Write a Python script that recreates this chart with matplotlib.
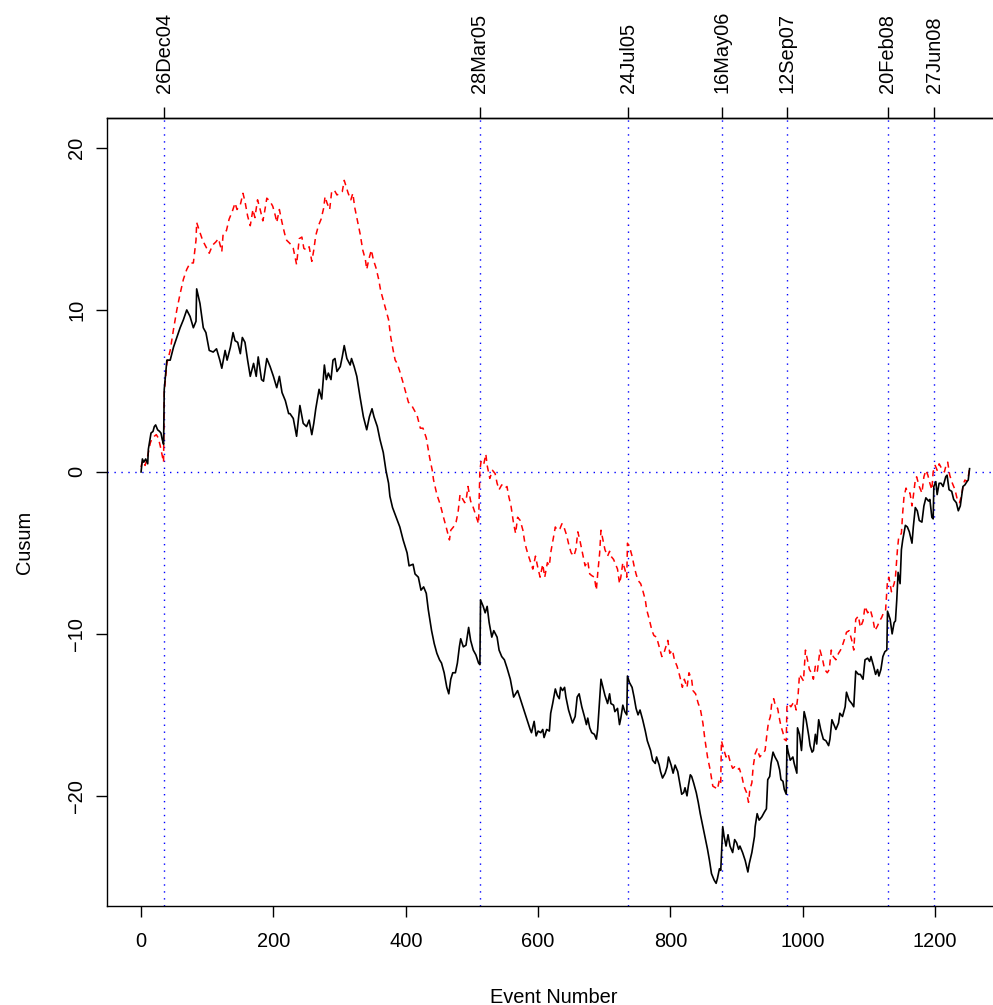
import matplotlib
matplotlib.use("Agg")
import matplotlib.pyplot as plt

# ---------------------------------------------------------------------------
# Data
# ---------------------------------------------------------------------------
black_x = [
    0, 2, 4, 7, 10, 11, 15, 18, 20, 22, 25, 28, 30, 32, 34, 35, 39, 44, 49, 54,
    59, 64, 69, 74, 79, 83, 84, 89, 94, 98, 103, 109, 114, 119, 122, 127, 130,
    135, 139, 142, 146, 150, 153, 157, 161, 165, 170, 174, 177, 182, 185, 190,
    195, 200, 205, 209, 213, 218, 223, 225, 230, 235, 240, 245, 250, 254, 258,
    261, 264, 269, 273, 277, 280, 283, 287, 290, 293, 296, 301, 304, 307, 311,
    316, 318, 322, 326, 331, 336, 341, 345, 349, 352, 357, 361, 366, 370, 374,
    376, 380, 391, 396, 402, 405, 411, 414, 419, 423, 427, 431, 434, 439, 443,
    447, 451, 454, 458, 462, 465, 468, 471, 475, 478, 481, 483, 487, 491, 495,
    498, 502, 506, 510, 512, 513, 517, 520, 523, 526, 530, 533, 538, 541, 545,
    549, 553, 558, 563, 569, 573, 588, 590, 594, 597, 600, 604, 607, 609, 613,
    617, 619, 622, 626, 629, 632, 634, 637, 640, 642, 646, 649, 652, 656, 659,
    662, 666, 670, 673, 675, 678, 681, 685, 688, 690, 693, 695, 698, 701, 705,
    708, 710, 714, 716, 720, 723, 725, 728, 731, 734, 735, 738, 742, 745, 748,
    751, 754, 758, 762, 765, 770, 773, 777, 779, 783, 785, 788, 792, 795, 797,
    801, 804, 807, 811, 814, 817, 820, 822, 825, 827, 830, 832, 835, 839, 842,
    845, 849, 852, 856, 859, 862, 866, 869, 871, 874, 876, 879, 881, 884, 887,
    890, 894, 897, 900, 903, 905, 909, 913, 917, 919, 923, 927, 928, 931, 934,
    938, 942, 945, 947, 950, 952, 955, 958, 962, 965, 967, 970, 972, 975, 976,
    978, 981, 985, 987, 991, 992, 995, 998, 1002, 1005, 1009, 1011, 1014, 1016,
    1019, 1021, 1024, 1027, 1031, 1035, 1039, 1041, 1044, 1046, 1050, 1054,
    1056, 1060, 1064, 1066, 1070, 1074, 1077, 1080, 1084, 1087, 1091, 1094,
    1098, 1101, 1103, 1107, 1110, 1113, 1115, 1118, 1121, 1124, 1127, 1128,
    1132, 1135, 1138, 1140, 1142, 1144, 1147, 1149, 1151, 1155, 1158, 1161,
    1165, 1167, 1170, 1173, 1176, 1180, 1183, 1186, 1190, 1192, 1195, 1197,
    1198, 1201, 1203, 1206, 1209, 1212, 1216, 1218, 1221, 1225, 1228, 1232,
    1235, 1238, 1240, 1242, 1245, 1248, 1250, 1252,
]
black_y = [
    0.0, 0.8, 0.6, 0.8, 0.5, 1.4, 2.4, 2.5, 2.8, 2.9, 2.6, 2.5, 2.4, 2.0, 1.7,
    5.1, 6.9, 6.9, 7.7, 8.3, 8.9, 9.4, 10.0, 9.6, 8.9, 9.3, 11.3, 10.4, 8.9,
    8.6, 7.5, 7.4, 7.6, 6.9, 6.4, 7.5, 6.9, 7.7, 8.6, 8.1, 8.0, 7.3, 8.3, 8.0,
    6.9, 5.9, 6.7, 5.9, 7.1, 5.7, 5.6, 7.0, 6.5, 5.9, 5.2, 5.9, 4.9, 4.4, 3.6,
    3.6, 3.3, 2.2, 4.1, 3.0, 2.8, 3.2, 2.3, 3.0, 3.9, 5.1, 4.5, 6.6, 5.7, 6.1,
    5.7, 6.9, 7.0, 6.2, 6.5, 7.1, 7.8, 7.0, 6.6, 7.0, 6.5, 5.9, 4.6, 3.4, 2.6,
    3.4, 3.9, 3.4, 2.8, 2.0, 1.2, 0.1, -0.7, -1.5, -2.2, -3.4, -4.2, -5.0,
    -5.8, -5.7, -6.3, -6.5, -7.3, -7.1, -7.5, -8.5, -9.8, -10.6, -11.2, -11.6,
    -11.8, -12.4, -13.3, -13.7, -12.8, -12.4, -12.4, -11.8, -10.8, -10.3,
    -10.8, -10.7, -9.6, -10.4, -11.0, -11.3, -11.8, -11.9, -7.9, -8.3, -8.7,
    -8.3, -9.3, -10.2, -9.8, -10.2, -11.0, -11.4, -11.6, -12.1, -12.8, -13.9,
    -13.5, -14.0, -15.9, -16.1, -15.4, -16.3, -16.0, -16.1, -15.9, -16.4,
    -15.9, -16.0, -14.9, -14.3, -13.4, -13.8, -14.0, -13.3, -13.5, -13.3,
    -13.9, -14.7, -15.1, -15.5, -15.1, -13.9, -13.7, -14.5, -15.1, -15.6,
    -15.2, -15.8, -16.1, -16.2, -16.5, -15.9, -14.1, -12.8, -13.3, -13.8,
    -14.3, -13.7, -14.3, -14.4, -14.8, -14.6, -15.6, -15.2, -14.4, -14.8,
    -15.0, -12.6, -13.0, -13.3, -13.9, -14.6, -15.0, -14.7, -15.3, -16.0,
    -16.6, -17.2, -17.8, -18.0, -17.6, -18.1, -18.5, -18.9, -18.6, -18.2,
    -17.6, -18.1, -18.6, -18.1, -18.5, -19.2, -19.9, -19.8, -19.5, -20.0,
    -19.4, -18.7, -18.8, -19.2, -19.8, -20.4, -21.1, -21.9, -22.5, -23.3,
    -24.0, -24.8, -25.2, -25.4, -25.1, -24.5, -24.6, -21.9, -22.5, -23.1,
    -22.4, -23.1, -23.5, -22.7, -22.9, -23.3, -23.1, -23.5, -24.0, -24.7,
    -24.2, -23.5, -22.5, -21.9, -21.1, -21.5, -21.3, -21.0, -20.8, -19.0,
    -18.8, -18.0, -17.3, -17.6, -17.9, -18.4, -19.0, -19.1, -19.6, -19.9,
    -16.9, -17.3, -17.8, -17.6, -18.0, -18.6, -15.8, -16.2, -17.2, -14.8,
    -15.3, -16.3, -16.9, -17.3, -17.2, -16.2, -16.8, -15.3, -15.9, -16.5,
    -16.6, -16.9, -16.5, -15.3, -15.5, -15.9, -15.5, -14.9, -15.1, -14.5,
    -13.6, -14.1, -14.3, -14.5, -12.3, -12.5, -12.5, -12.8, -11.6, -11.5,
    -11.7, -11.4, -12.0, -12.5, -12.2, -12.6, -12.2, -11.4, -11.1, -11.0,
    -8.6, -9.1, -10.0, -9.3, -9.2, -7.9, -6.2, -6.9, -4.8, -4.2, -3.3, -3.4,
    -3.7, -4.4, -3.4, -2.2, -2.4, -3.0, -3.1, -2.1, -1.6, -1.8, -1.7, -2.8,
    -2.9, -0.9, -0.6, -1.4, -0.7, -0.7, -0.9, -0.3, -0.2, -1.1, -1.2, -1.7,
    -1.9, -2.4, -2.1, -1.5, -0.9, -0.8, -0.6, -0.5, 0.2,
]

red_x = [
    0, 1, 3, 6, 9, 11, 14, 16, 20, 23, 26, 29, 31, 34, 35, 39, 44, 49, 54, 59,
    64, 69, 74, 79, 83, 84, 88, 93, 98, 103, 108, 113, 117, 122, 124, 129, 133,
    138, 142, 145, 150, 154, 157, 161, 165, 169, 172, 176, 180, 184, 186, 190,
    195, 199, 203, 205, 209, 213, 217, 220, 225, 230, 235, 239, 243, 246, 250,
    254, 258, 261, 264, 268, 272, 276, 278, 281, 285, 288, 292, 296, 301, 304,
    307, 310, 313, 317, 320, 323, 327, 331, 335, 339, 341, 344, 348, 351, 355,
    359, 362, 366, 370, 374, 377, 381, 384, 387, 391, 396, 404, 409, 417, 422,
    426, 431, 436, 440, 442, 447, 452, 457, 461, 466, 468, 472, 476, 479, 482,
    485, 489, 491, 494, 498, 502, 506, 510, 512, 514, 518, 521, 523, 527, 531,
    535, 538, 541, 545, 550, 553, 555, 559, 563, 566, 569, 573, 577, 580, 584,
    588, 592, 596, 599, 603, 607, 610, 614, 617, 619, 622, 626, 629, 633, 636,
    639, 643, 647, 650, 654, 657, 660, 663, 667, 671, 675, 678, 681, 685, 688,
    690, 693, 695, 698, 701, 705, 708, 710, 714, 716, 720, 723, 725, 728, 731,
    734, 735, 738, 742, 745, 748, 751, 755, 758, 762, 764, 768, 772, 775, 779,
    783, 787, 790, 793, 796, 799, 803, 806, 810, 814, 818, 821, 825, 828, 832,
    834, 838, 842, 845, 849, 852, 856, 860, 864, 868, 871, 874, 876, 877, 881,
    884, 887, 891, 894, 897, 901, 904, 908, 911, 915, 918, 920, 923, 925, 928,
    931, 935, 939, 943, 946, 948, 951, 953, 956, 959, 962, 965, 967, 970, 972,
    975, 976, 978, 982, 985, 987, 990, 993, 995, 998, 1001, 1004, 1006, 1010,
    1013, 1016, 1019, 1022, 1026, 1030, 1033, 1037, 1040, 1043, 1046, 1050,
    1054, 1057, 1060, 1064, 1066, 1070, 1074, 1077, 1080, 1084, 1087, 1091,
    1094, 1098, 1102, 1106, 1109, 1113, 1116, 1119, 1122, 1125, 1128, 1130,
    1134, 1138, 1140, 1143, 1145, 1149, 1151, 1153, 1156, 1159, 1162, 1165,
    1167, 1170, 1172, 1176, 1180, 1183, 1186, 1189, 1192, 1195, 1197, 1200,
    1203, 1206, 1210, 1214, 1217, 1219, 1222, 1226, 1230, 1234, 1237, 1240,
    1243, 1245, 1248, 1250, 1252,
]
red_y = [
    0.3, 0.5, 0.7, 0.4, 0.8, 1.2, 1.8, 2.0, 2.2, 2.3, 2.1, 1.6, 1.2, 0.6, 4.9,
    6.7, 7.5, 8.8, 10.0, 11.0, 11.9, 12.5, 12.9, 12.9, 14.3, 15.4, 14.9, 14.3,
    13.9, 13.5, 14.0, 14.2, 14.4, 13.6, 14.7, 14.9, 15.6, 16.1, 16.6, 16.2,
    16.5, 17.2, 16.7, 15.8, 15.2, 16.2, 15.7, 16.8, 16.2, 15.5, 15.9, 16.9,
    16.7, 16.4, 15.8, 15.4, 16.2, 15.4, 14.7, 14.3, 14.1, 13.8, 12.8, 14.4,
    14.5, 13.8, 13.7, 13.9, 13.0, 13.7, 14.6, 15.2, 15.6, 16.3, 17.0, 16.6,
    16.2, 17.3, 17.4, 17.1, 17.2, 17.3, 18.0, 17.6, 17.2, 16.8, 17.2, 16.3,
    15.5, 14.7, 13.7, 13.1, 12.5, 13.1, 13.7, 13.1, 12.6, 11.9, 11.2, 10.6,
    10.0, 9.4, 8.4, 7.5, 6.9, 6.7, 6.2, 5.5, 4.3, 4.1, 3.5, 2.7, 2.7, 2.1, 0.9,
    0.1, -0.5, -1.4, -2.0, -2.8, -3.4, -4.2, -3.6, -3.4, -3.1, -2.5, -1.4,
    -1.6, -1.9, -1.8, -0.9, -1.8, -2.2, -2.7, -3.2, 0.1, 0.7, 0.5, 1.1, 0.4,
    -0.4, 0.1, -0.1, -0.7, -1.1, -0.8, -1.0, -0.9, -1.4, -2.1, -3.2, -3.8,
    -2.8, -3.0, -3.6, -4.4, -5.0, -5.5, -6.0, -5.2, -5.8, -6.5, -5.7, -6.5,
    -5.6, -5.8, -5.0, -4.3, -3.4, -3.6, -3.5, -3.2, -3.4, -3.9, -4.6, -5.0,
    -5.2, -4.8, -3.7, -4.2, -5.0, -5.8, -5.5, -6.3, -6.4, -6.5, -7.3, -6.3,
    -5.0, -3.6, -4.2, -4.8, -5.2, -4.9, -5.2, -5.4, -5.6, -6.0, -6.9, -6.5,
    -5.6, -6.0, -6.5, -4.4, -4.6, -5.2, -5.8, -6.3, -6.7, -6.9, -7.3, -7.9,
    -8.5, -9.1, -9.8, -10.1, -10.2, -10.8, -11.4, -11.2, -10.8, -10.4, -11.2,
    -11.0, -11.6, -12.0, -12.6, -13.3, -12.8, -13.3, -12.4, -12.8, -13.5,
    -13.7, -14.3, -14.6, -15.5, -16.5, -17.6, -18.4, -19.4, -19.5, -19.6,
    -19.0, -19.2, -16.6, -17.2, -17.6, -17.4, -18.0, -18.3, -18.2, -18.4,
    -18.3, -18.8, -19.4, -19.8, -20.4, -19.6, -19.2, -18.2, -17.4, -17.1,
    -17.6, -17.4, -17.2, -16.1, -15.5, -15.1, -14.3, -14.0, -14.5, -14.6,
    -15.3, -15.7, -16.1, -16.5, -16.6, -14.5, -14.3, -14.5, -14.3, -14.2,
    -14.7, -13.7, -12.5, -12.7, -12.9, -11.0, -11.4, -12.2, -12.4, -12.8,
    -12.0, -12.3, -11.0, -11.6, -12.2, -12.4, -12.2, -11.0, -11.4, -11.6,
    -11.2, -11.0, -10.7, -10.2, -9.9, -9.8, -10.4, -11.0, -9.1, -8.9, -9.6,
    -9.2, -8.3, -8.7, -8.5, -9.1, -9.8, -9.5, -9.2, -9.0, -8.7, -8.6, -6.7,
    -6.5, -7.4, -6.9, -6.5, -4.8, -4.0, -3.8, -2.5, -1.5, -1.0, -1.3, -1.3,
    -2.1, -1.5, -0.5, -0.3, -0.9, -1.3, -0.3, 0.1, -0.2, -0.7, -1.1, 0.0, 0.4,
    0.1, 0.5, 0.2, 0.0, 0.5, 0.6, -0.2, -0.7, -1.1, -1.8, -1.9, -1.4, -0.7,
    -0.5, -0.6, -0.3, 0.2,
]

event_pos = [35, 512, 736, 878, 976, 1128, 1199]
event_labels = ["26Dec04", "28Mar05", "24Jul05", "16May06", "12Sep07",
                "20Feb08", "27Jun08"]

x_ticks = [0, 200, 400, 600, 800, 1000, 1200]
y_ticks = [-20, -10, 0, 10, 20]

# ---------------------------------------------------------------------------
# Style
# ---------------------------------------------------------------------------
plt.rcParams.update({
    "font.family": ["Liberation Sans", "DejaVu Sans"],
    "font.size": 14.4,
    "axes.linewidth": 1.0,
    "xtick.major.size": 8,
    "ytick.major.size": 8,
    "xtick.major.width": 1.0,
    "ytick.major.width": 1.0,
})

fig = plt.figure(figsize=(9.93, 10.05), dpi=100)
ax = fig.add_axes([107 / 993, 99 / 1005, 893 / 993, 788 / 1005])

dotted = (0, (1, 4))
ax.axhline(0, color="#0000FF", lw=1.0, linestyle=dotted)
for xp in event_pos:
    ax.axvline(xp, color="#0000FF", lw=1.0, linestyle=dotted)

ax.plot(red_x, red_y, color="#FF0000", lw=1.1, linestyle=(0, (4, 3)))
ax.plot(black_x, black_y, color="black", lw=1.2)

ax.set_xlim(-51.5, 1298)
ax.set_ylim(-26.8, 21.85)
ax.set_xticks(x_ticks)
ax.set_yticks(y_ticks)
ax.tick_params(axis="x", pad=11)
ax.tick_params(axis="y", pad=7, labelrotation=90)
for lab in ax.get_yticklabels():
    lab.set_va("center")

ax.set_xlabel("Event Number", labelpad=26)
ax.set_ylabel("Cusum")
# R puts the y label a little below the middle in this figure
ax.yaxis.set_label_coords(-0.082, 0.461)

top = ax.secondary_xaxis("top")
top.set_xticks(event_pos, labels=event_labels)
top.tick_params(axis="x", pad=10, labelrotation=90, length=8)

fig.savefig("out.png", dpi=100)
